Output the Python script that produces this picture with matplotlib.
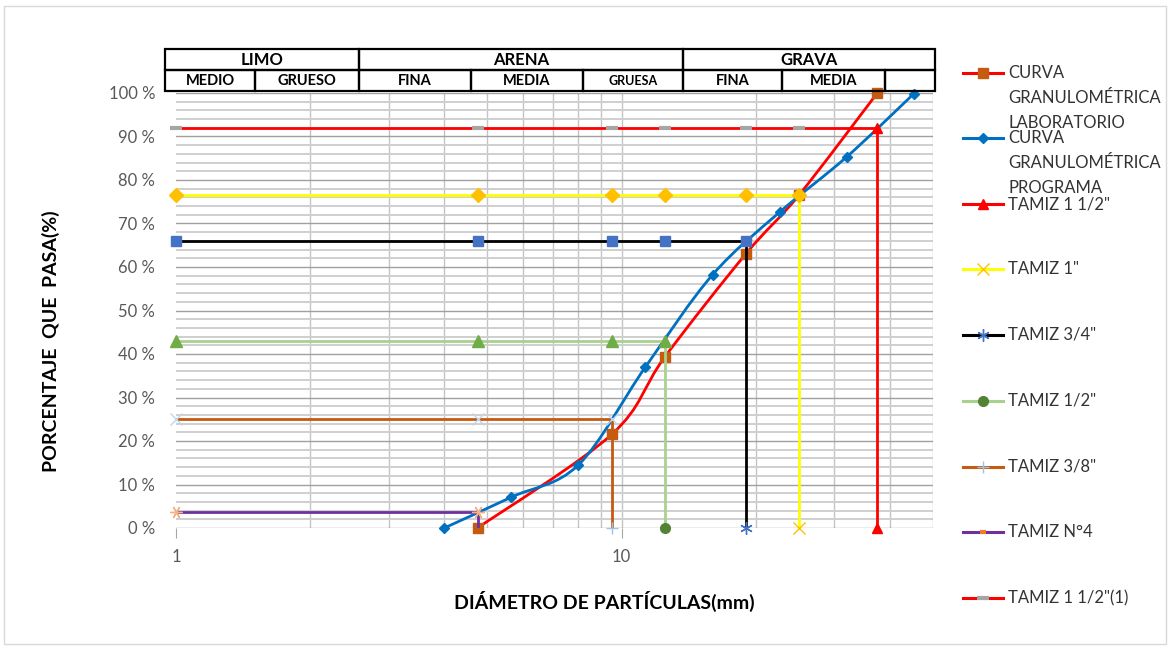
import numpy as np
import matplotlib.pyplot as plt
from matplotlib.path import Path
from matplotlib.patches import PathPatch, Rectangle
from matplotlib.lines import Line2D

W, H = 1171, 648
FONT = 'Lato'

# curva de laboratorio
lab_mm = [4.75, 9.5, 12.5, 19.0, 25.0, 37.5]
lab_pass = [0.0, 21.5, 39.3, 63.0, 76.5, 100.0]

# curva del programa
prog_mm = [4.0, 5.66, 8.0, 11.31, 16.0, 22.63, 32.0, 45.25]
prog_pass = [0.0, 7.1, 14.5, 37.0, 58.2, 72.6, 85.3, 99.8]

# tamices (abertura y porcentaje que pasa)
sieve_names = ['TAMIZ 1 1/2"', 'TAMIZ 1"', 'TAMIZ 3/4"', 'TAMIZ 1/2"', 'TAMIZ 3/8"', 'TAMIZ N°4']
sieve_mm = [37.5, 25.0, 19.0, 12.5, 9.5, 4.75]
sieve_pass = [92.0, 76.5, 66.0, 43.0, 25.0, 3.7]
# puntos usados por las lineas horizontales
ref_mm = [1.0, 4.75, 9.5, 12.5, 19.0, 25.0, 37.5]

legend_labels = ['CURVA\nGRANULOMÉTRICA\nLABORATORIO', 'CURVA\nGRANULOMÉTRICA\nPROGRAMA',
                 'TAMIZ 1 1/2"', 'TAMIZ 1"', 'TAMIZ 3/4"', 'TAMIZ 1/2"', 'TAMIZ 3/8"',
                 'TAMIZ N°4', 'TAMIZ 1 1/2"(1)']

header_top = ['LIMO', 'ARENA', 'GRAVA']
header_sub = ['MEDIO', 'GRUESO', 'FINA', 'MEDIA', 'GRUESA', 'FINA', 'MEDIA', '']

RED = '#ff0000'
BLUE = '#0070c0'
BROWN = '#c55a11'


def px(x, y):
    return x / W, 1 - y / H


def smooth_path(xs, ys):
    # curva suavizada tipo Excel (bezier en espacio log-x)
    pts = np.column_stack([np.log10(xs), np.asarray(ys, float)])
    n = len(pts)
    verts = [pts[0]]
    codes = [Path.MOVETO]
    for i in range(n - 1):
        p0 = pts[max(i - 1, 0)]
        p1 = pts[i]
        p2 = pts[i + 1]
        p3 = pts[min(i + 2, n - 1)]
        verts += [p1 + (p2 - p0) / 6, p2 - (p3 - p1) / 6, p2]
        codes += [Path.CURVE4] * 3
    verts = np.array(verts)
    verts[:, 0] = 10 ** verts[:, 0]
    return Path(verts, codes)


fig = plt.figure(figsize=(W / 100, H / 100), dpi=100)
x0, y0 = px(176, 528)
x1, y1 = px(933, 93)
ax = fig.add_axes([x0, y0, x1 - x0, y1 - y0])
ax.set_xscale('log')
ax.set_xlim(1, 50)
ax.set_ylim(0, 100)

ax.set_xticks([1, 10])
ax.set_xticklabels(['1', '10'])
ax.set_xticks([2, 3, 4, 5, 6, 7, 8, 9, 20, 30, 40, 50], minor=True)
ax.set_yticks(np.arange(0, 101, 10))
ax.set_yticklabels(['%d %%' % v for v in range(0, 101, 10)])
ax.set_yticks(np.arange(0, 101, 2), minor=True)
ax.tick_params(axis='x', which='major', length=7, color='#a6a6a6', labelsize=12,
               labelcolor='#595959', pad=8)
ax.tick_params(axis='x', which='minor', length=0)
ax.tick_params(axis='y', which='both', length=0, labelsize=12, labelcolor='#595959', pad=15)
for lab in ax.get_xticklabels() + ax.get_yticklabels():
    lab.set_fontfamily(FONT)
for s in ax.spines.values():
    s.set_visible(False)

ax.grid(True, axis='y', which='major', color='#a0a0a0', lw=1.0)
ax.grid(True, axis='y', which='minor', color='#cfcfcf', lw=1.4)
ax.grid(True, axis='x', which='both', color='#c4c4c4', lw=1.0)
ax.xaxis.get_gridlines()[0].set_visible(False)
ax.set_axisbelow(True)

# curva laboratorio
ax.add_patch(PathPatch(smooth_path(lab_mm, lab_pass), fill=False, ec=RED, lw=2.0, zorder=3))
ax.plot(lab_mm, lab_pass, ls='none', marker='s', ms=7, color=BROWN, zorder=3, clip_on=False)

# curva programa
ax.add_patch(PathPatch(smooth_path(prog_mm, prog_pass), fill=False, ec=BLUE, lw=2.0, zorder=3))
ax.plot(prog_mm, prog_pass, ls='none', marker='D', ms=5.5, color=BLUE, zorder=3, clip_on=False)

# lineas de tamiz
line_cols = [RED, '#ffff00', '#000000', '#a9d18e', BROWN, '#7030a0']
top_mk = [None, ('D', '#ffc000', 7), ('s', '#4472c4', 7), ('^', '#70ad47', 8),
          ('x', '#bdd7ee', 8), ((6, 2, 90), '#f4b183', 9)]
bot_mk = [('^', RED, 7), ('x', '#ffc000', 8), ((6, 2, 0), '#4472c4', 9), ('o', '#548235', 7),
          ('+', '#9dc3e6', 9), (None, None, 0)]

for k, (s, p) in enumerate(zip(sieve_mm, sieve_pass)):
    hx = [x for x in ref_mm if x <= s]
    z = 4 + k * 0.01
    if k == 0:
        # TAMIZ 1 1/2": solo vertical
        ax.plot([s, s], [p, 0], color=line_cols[k], lw=2.0, zorder=z)
        m, c, ms = bot_mk[k]
        ax.plot([s, s], [p, 0], ls='none', marker=m, color=c, ms=ms, zorder=z, clip_on=False)
        continue
    ax.plot(hx + [s], [p] * len(hx) + [0], color=line_cols[k], lw=2.0, zorder=z)
    m, c, ms = top_mk[k]
    ax.plot(hx, [p] * len(hx), ls='none', marker=m, color=c, ms=ms, mew=1.0, zorder=z, clip_on=False)
    m, c, ms = bot_mk[k]
    if m is not None:
        ax.plot([s], [0], ls='none', marker=m, color=c, ms=ms, mew=1.0, zorder=z, clip_on=False)

# TAMIZ 1 1/2"(1): horizontal
hx = [x for x in ref_mm if x <= sieve_mm[0]]
ax.plot(hx, [sieve_pass[0]] * len(hx), color=RED, lw=2.0, zorder=4.1)
ax.plot(hx[:-1], [sieve_pass[0]] * (len(hx) - 1), ls='none', marker='_', ms=9, mew=3,
        color='#a5a5a5', zorder=4.1, clip_on=False)

# titulos de ejes
fig.text(*px(51, 341), 'PORCENTAJE  QUE  PASA(%)', rotation=90, ha='center', va='center',
         fontsize=14, fontweight='bold', family=FONT)
fig.text(*px(604, 601), 'DIÁMETRO DE PARTÍCULAS(mm)', ha='center', va='center',
         fontsize=14, fontweight='bold', family=FONT)

# tabla de clasificacion
top_edges = [165, 359, 683, 935]
sub_edges = [165, 255, 359, 471, 583, 683, 782, 885, 935]
for i, t in enumerate(header_top):
    xa, xb = top_edges[i], top_edges[i + 1]
    fig.patches.append(Rectangle(px(xa, 70), (xb - xa) / W, 21 / H, transform=fig.transFigure,
                                 fill=False, ec='black', lw=1.6))
    fig.text(*px((xa + xb) / 2, 60), t, ha='center', va='center', fontsize=12,
             fontweight='bold', family=FONT)
for i, t in enumerate(header_sub):
    xa, xb = sub_edges[i], sub_edges[i + 1]
    fig.patches.append(Rectangle(px(xa, 91), (xb - xa) / W, 21 / H, transform=fig.transFigure,
                                 fill=False, ec='black', lw=1.6))
    fs = 9 if t == 'GRUESA' else 10.5
    fig.text(*px((xa + xb) / 2, 81), t, ha='center', va='center', fontsize=fs,
             fontweight='bold', family=FONT)

# leyenda
leg_style = [(RED, 's', BROWN, 7, 1), (BLUE, 'D', BLUE, 5.5, 1), (RED, '^', RED, 7, 1),
             ('#ffff00', 'x', '#ffc000', 8, 1), ('#000000', (6, 2, 0), '#4472c4', 9, 1),
             ('#a9d18e', 'o', '#548235', 7, 1), (BROWN, '+', '#9dc3e6', 9, 1),
             ('#7030a0', '_', '#ed7d31', 4, 3), (RED, '_', '#a5a5a5', 9, 3)]
leg_y = [73, 138, 204, 269, 335, 401, 467, 532, 598]
for lab, yy, (lc, m, mc, ms, mw) in zip(legend_labels, leg_y, leg_style):
    xa, ya = px(963, yy)
    xb, _ = px(1003, yy)
    fig.lines.append(Line2D([xa, xb], [ya, ya], transform=fig.transFigure, color=lc, lw=2.2))
    fig.lines.append(Line2D([(xa + xb) / 2], [ya], transform=fig.transFigure, ls='none',
                            marker=m, color=mc, ms=ms, mew=mw))
    for j, line in enumerate(lab.split('\n')):
        fig.text(*px(1008, yy + 25 * j), line, ha='left', va='center', fontsize=12,
                 color='#333333', family=FONT)

# borde del grafico
fig.patches.append(Rectangle(px(4, 644), 1162 / W, 638 / H, transform=fig.transFigure,
                             fill=False, ec='#d9d9d9', lw=1))

fig.savefig('out.png', dpi=100)
